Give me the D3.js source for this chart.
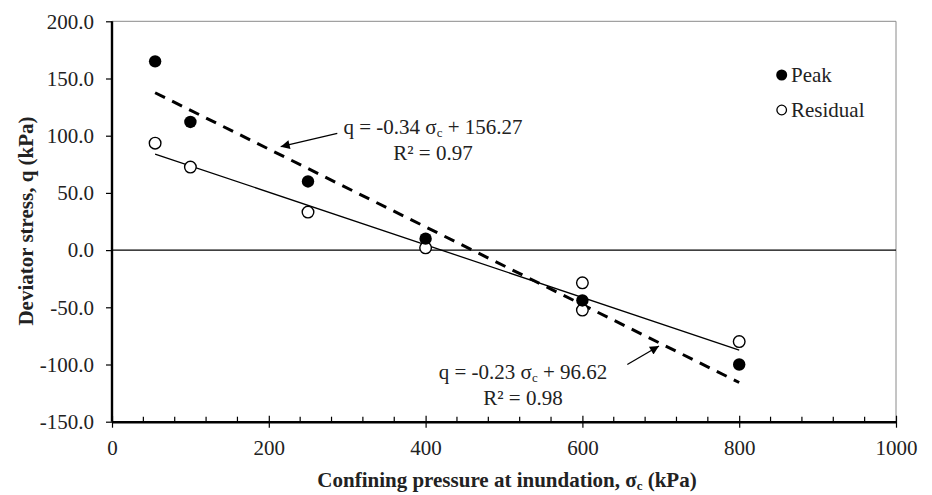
<!DOCTYPE html>
<html>
<head>
<meta charset="utf-8">
<script src="https://cdn.jsdelivr.net/npm/d3@7"></script>
<style>
  html, body { margin: 0; padding: 0; background: #fff; }
  svg { display: block; font-family: "Liberation Serif", "Times New Roman", serif; }
</style>
</head>
<body>
<svg id="chart" width="932" height="495"></svg>
<script>
// ---- data ----
const peakX = [55, 100, 250, 400, 600, 800];
const peakY = [165, 112, 60, 10, -44, -100];
const residualX = [55, 100, 250, 400, 600, 600, 800];
const residualY = [93.5, 72.6, 33.2, 2, -28.6, -52.4, -80];
const fitNames = ["Peak", "Residual"];
const fitSlopes = [-0.34, -0.23];
const fitIntercepts = [156.27, 96.62];
const fitR2 = ["0.97", "0.98"];
const fitXRange = [55, 800];
const xTicks = [0, 200, 400, 600, 800, 1000];
const xMinorTicks = d3.range(0, 1001, 40);
const yTicks = [-150, -100, -50, 0, 50, 100, 150, 200];

// ---- layout ----
const plotL = 112, plotR = 896, plotT = 21.3, plotB = 421.7;
const svg = d3.select("#chart");
const x = d3.scaleLinear().domain([0, 1000]).range([plotL, plotR]);
const y = d3.scaleLinear().domain([-150, 200]).range([plotB, plotT]);
const FONT = 21;

// defs: arrow marker
svg.append("defs").append("marker")
  .attr("id", "arrow").attr("viewBox", "0 0 10 10")
  .attr("refX", 10).attr("refY", 5)
  .attr("markerWidth", 11).attr("markerHeight", 9)
  .attr("markerUnits", "userSpaceOnUse")
  .attr("orient", "auto")
  .append("path").attr("d", "M0,0 L10,5 L0,10 Z").attr("fill", "#000");

// top & right borders (thin grey)
svg.append("line").attr("x1", plotL).attr("x2", plotR).attr("y1", plotT).attr("y2", plotT)
  .attr("stroke", "#8a8a8a").attr("stroke-width", 1);
svg.append("line").attr("x1", plotR).attr("x2", plotR).attr("y1", plotT).attr("y2", plotB)
  .attr("stroke", "#8a8a8a").attr("stroke-width", 1);

// zero line
svg.append("line").attr("x1", x(0)).attr("x2", x(1000)).attr("y1", y(0)).attr("y2", y(0))
  .attr("stroke", "#000").attr("stroke-width", 1.1);

// y axis
const yAxis = d3.axisLeft(y).tickValues(yTicks).tickSize(6).tickPadding(12)
  .tickFormat(d => d3.format(".1f")(d).replace("−", "-"));
const gy = svg.append("g").attr("transform", `translate(${plotL},0)`).call(yAxis);
gy.select(".domain").attr("stroke", "#000").attr("stroke-width", 2.4)
  .attr("d", `M0,${plotT}V${plotB}`);
gy.selectAll(".tick line").attr("stroke", "#000").attr("stroke-width", 1.2);
gy.selectAll(".tick text").attr("font-size", FONT).attr("fill", "#222")
  .attr("font-family", "Liberation Serif");

// x axis: minor ticks inward
const gxMinor = svg.append("g").attr("transform", `translate(0,${plotB})`);
gxMinor.selectAll("line").data(xMinorTicks.filter(v => v % 200 !== 0)).join("line")
  .attr("x1", d => x(d)).attr("x2", d => x(d)).attr("y1", -5).attr("y2", 0)
  .attr("stroke", "#000").attr("stroke-width", 1.2);

const xAxis = d3.axisBottom(x).tickValues(xTicks).tickSizeInner(6).tickSizeOuter(0).tickPadding(12)
  .tickFormat(d3.format("d"));
const gx = svg.append("g").attr("transform", `translate(0,${plotB})`).call(xAxis);
gx.select(".domain").attr("stroke", "#000").attr("stroke-width", 2.4);
gx.selectAll(".tick line").attr("stroke", "#000").attr("stroke-width", 1.2).attr("y1", -6).attr("y2", 6);
gx.selectAll(".tick text").attr("font-size", FONT).attr("fill", "#222")
  .attr("font-family", "Liberation Serif");

// axis titles
const xt = svg.append("text").attr("x", 507).attr("y", 487).attr("text-anchor", "middle")
  .attr("font-size", FONT).attr("font-weight", "bold").attr("fill", "#222");
xt.append("tspan").text("Confining pressure at inundation, σ");
xt.append("tspan").attr("font-size", 13).attr("dy", 3).text("c");
xt.append("tspan").attr("dy", -3).text(" (kPa)");

svg.append("text").attr("transform", "translate(33,221) rotate(-90)")
  .attr("text-anchor", "middle").attr("font-size", FONT).attr("font-weight", "bold")
  .attr("fill", "#222").text("Deviator stress, q (kPa)");

// trend lines
const fitLine = (i) => fitXRange.map(v => [x(v), y(fitSlopes[i] * v + fitIntercepts[i])]);
svg.append("path").attr("d", d3.line()(fitLine(0))).attr("fill", "none")
  .attr("stroke", "#000").attr("stroke-width", 3).attr("stroke-dasharray", "11,8");
svg.append("path").attr("d", d3.line()(fitLine(1))).attr("fill", "none")
  .attr("stroke", "#000").attr("stroke-width", 1.3);

// points
svg.append("g").selectAll("circle").data(residualX.map((v, i) => [v, residualY[i]])).join("circle")
  .attr("cx", d => x(d[0])).attr("cy", d => y(d[1])).attr("r", 5.8)
  .attr("fill", "#fff").attr("stroke", "#000").attr("stroke-width", 1.4);
svg.append("g").selectAll("circle").data(peakX.map((v, i) => [v, peakY[i]])).join("circle")
  .attr("cx", d => x(d[0])).attr("cy", d => y(d[1])).attr("r", 6.2)
  .attr("fill", "#000");

// annotations
function equation(cx, by, i) {
  const t = svg.append("text").attr("x", cx).attr("y", by).attr("text-anchor", "middle")
    .attr("font-size", FONT).attr("fill", "#222");
  t.append("tspan").text(`q = ${fitSlopes[i].toFixed(2)} σ`);
  t.append("tspan").attr("font-size", 13).attr("dy", 3).text("c");
  t.append("tspan").attr("dy", -3).text(` + ${fitIntercepts[i].toFixed(2)}`);
  svg.append("text").attr("x", cx).attr("y", by + 26).attr("text-anchor", "middle")
    .attr("font-size", FONT).attr("fill", "#222").text(`R² = ${fitR2[i]}`);
}
equation(433, 134, 0);
equation(523, 379, 1);

svg.append("line").attr("x1", 337.3).attr("y1", 133.3).attr("x2", 280.7).attr("y2", 146.7)
  .attr("stroke", "#000").attr("stroke-width", 1.3).attr("marker-end", "url(#arrow)");
svg.append("line").attr("x1", 627.3).attr("y1", 364.5).attr("x2", 659).attr("y2", 346)
  .attr("stroke", "#000").attr("stroke-width", 1.3).attr("marker-end", "url(#arrow)");

// legend
const leg = svg.append("g");
leg.append("circle").attr("cx", 781.7).attr("cy", 75).attr("r", 5.5).attr("fill", "#000");
leg.append("text").attr("x", 791).attr("y", 82).attr("font-size", FONT).attr("fill", "#222").text(fitNames[0]);
leg.append("circle").attr("cx", 781.7).attr("cy", 110).attr("r", 4.8).attr("fill", "#fff")
  .attr("stroke", "#000").attr("stroke-width", 1.3);
leg.append("text").attr("x", 791).attr("y", 117).attr("font-size", FONT).attr("fill", "#222").text(fitNames[1]);
</script>
</body>
</html>
